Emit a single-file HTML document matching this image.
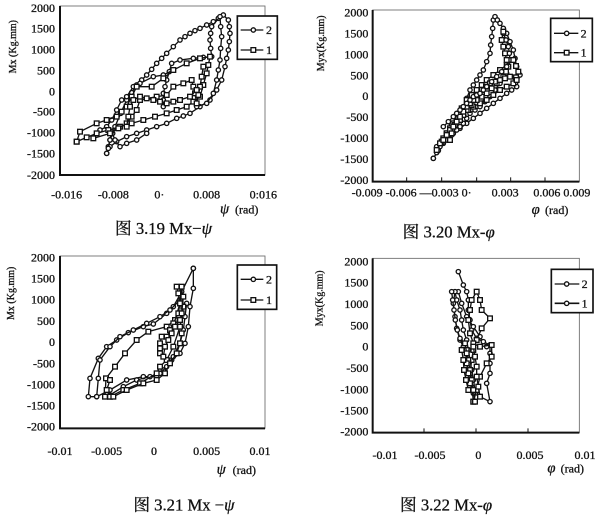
<!DOCTYPE html>
<html><head><meta charset="utf-8"><style>
html,body{margin:0;padding:0;background:#fff;width:600px;height:520px;overflow:hidden}
svg{display:block}
text{font-family:"Liberation Serif","Noto Serif CJK SC",serif;fill:#111;stroke:#111;stroke-width:0.9}
</style></head><body>
<svg width="600" height="520" viewBox="0 0 1800 1560" xmlns="http://www.w3.org/2000/svg">
<defs>
<marker id="c" markerUnits="userSpaceOnUse" markerWidth="22" markerHeight="22" refX="11" refY="11" viewBox="0 0 22 22"><circle cx="11" cy="11" r="6.5" fill="#fff" stroke="#111" stroke-width="4"/></marker>
<marker id="s" markerUnits="userSpaceOnUse" markerWidth="22" markerHeight="22" refX="11" refY="11" viewBox="0 0 22 22"><rect x="4" y="4" width="14" height="14" fill="#fff" stroke="#111" stroke-width="4"/></marker>
<style>
.c{fill:none;stroke:#111;stroke-width:4;marker-start:url(#c);marker-mid:url(#c);marker-end:url(#c)}
.s{fill:none;stroke:#111;stroke-width:4;marker-start:url(#s);marker-mid:url(#s);marker-end:url(#s)}
.t{font-size:36px}
.yl{font-size:30px}
.ti{font-size:50px}
.ax{fill:none;stroke:#111;stroke-width:6}
.fr{fill:none;stroke:#666;stroke-width:2.5}
</style>
</defs>

<!-- Panel 1 -->
<g>
<rect class="fr" x="180" y="18" width="615" height="507"/>
<path class="ax" d="M180 18 V525 H795"/>
<g class="t" text-anchor="end">
<text x="165" y="36">2000</text><text x="165" y="98">1500</text><text x="165" y="161">1000</text><text x="165" y="223">500</text><text x="165" y="286">0</text><text x="165" y="347">-500</text><text x="165" y="410">-1000</text><text x="165" y="472">-1500</text><text x="165" y="537">-2000</text>
</g>
<g class="t" text-anchor="middle">
<text x="200" y="595">-0.016</text><text x="340" y="595">-0.008</text><text x="478" y="595">0·</text><text x="620" y="595">0.008</text><text x="790" y="595">0:016</text>
</g>
<text class="yl" transform="translate(48,140) rotate(-90)" text-anchor="middle">Mx (Kg.mm)</text>
<text x="660" y="640" style="font-size:44px;font-style:italic">ψ</text><text x="705" y="640" class="t">(rad)</text>
<text x="345" y="702" class="ti">图  3.19 Mx−<tspan font-style="italic">ψ</tspan></text>
<rect x="712" y="48" width="120" height="130" fill="#fff" stroke="#111" stroke-width="5"/>
<line x1="722" y1="90" x2="790" y2="90" stroke="#111" stroke-width="4"/><circle cx="760" cy="90" r="6.5" fill="#fff" stroke="#111" stroke-width="4"/><text x="798" y="102" class="t">2</text>
<line x1="722" y1="150" x2="790" y2="150" stroke="#111" stroke-width="4"/><rect x="753" y="143" width="14" height="14" fill="#fff" stroke="#111" stroke-width="4"/><text x="798" y="162" class="t">1</text>
<polyline class="c" points="320,460 325,440 330,420 338,400 345,380 362,340 380,300 395,278 410,255 425,240 440,225 455,208 470,190 485,175 500,160 520,140 540,120 555,110 570,100 585,92 600,85 620,75 640,65 655,55 670,45 685,60 688,80 690,100 688,125 685,150 680,175 675,200 665,240 650,270 630,300 600,320 570,340 550,348 530,355 500,370 470,380 440,390 410,400 380,410 350,425 330,440 320,460"/>
<polyline class="c" points="490,320 490,300 490,280 495,260 500,240 508,215 515,190 540,180 580,175 610,172 635,170 632,145 630,120 632,100 635,80 660,50 662,80 665,110 662,145 660,180 655,210 650,240 640,280 620,310 590,320"/>
<polyline class="c" points="300,390 320,380 335,360 350,330 365,300 380,290 400,260 420,250 460,230 490,225 520,210"/>
<polyline class="c" points="325,445 330,420 335,395 345,420 360,440 380,430 410,420 440,400"/>
<polyline class="s" points="230,425 240,395 290,370 320,360 350,350 365,335 380,320 395,290 410,260 455,260 490,235 520,210 560,190 600,175 630,170 625,195 620,220 610,255 600,290 580,305 560,320 530,330 500,340 465,350 430,360 395,370 360,380 325,390 290,400 260,412 230,425"/>
<polyline class="s" points="280,415 330,400 355,385 380,370 395,350 410,330 420,300 470,290 500,285 520,260 550,250 575,240 580,260 585,280 590,310 595,285 600,260 605,230 610,200"/>
<polyline class="s" points="380,380 385,350 390,320 400,300 420,290 440,295 460,300 480,305 500,310 520,305 540,300 570,290 590,270"/>
</g>

<!-- Panel 2 -->
<g transform="translate(900,0)">
<rect class="fr" x="218" y="30" width="620" height="515"/>
<path class="ax" d="M218 30 V545 H838"/>
<g stroke="#111" stroke-width="3"><line x1="320" y1="545" x2="320" y2="532"/><line x1="425" y1="545" x2="425" y2="532"/><line x1="530" y1="545" x2="530" y2="532"/><line x1="632" y1="545" x2="632" y2="532"/><line x1="735" y1="545" x2="735" y2="532"/></g>
<g class="t" text-anchor="end">
<text x="205" y="50">2000</text><text x="205" y="112">1500</text><text x="205" y="175">1000</text><text x="205" y="238">500</text><text x="205" y="300">0</text><text x="205" y="363">-500</text><text x="205" y="426">-1000</text><text x="205" y="489">-1500</text><text x="205" y="552">-2000</text>
</g>
<text x="155" y="590" class="t">-0.009 -0.006 —0.003 0·</text>
<text x="575" y="590" class="t">0.003</text>
<text x="700" y="590" class="t">0.006 0.009</text>
<text class="yl" transform="translate(72,130) rotate(-90)" text-anchor="middle">Myx(Kg.mm)</text>
<text x="695" y="642" style="font-size:44px;font-style:italic">φ</text><text x="735" y="642" class="t">(rad)</text>
<text x="308" y="712" class="ti">图  3.20 Mx-<tspan font-style="italic">φ</tspan></text>
<rect x="752" y="55" width="125" height="130" fill="#fff" stroke="#111" stroke-width="5"/>
<line x1="762" y1="100" x2="835" y2="100" stroke="#111" stroke-width="4"/><circle cx="800" cy="100" r="6.5" fill="#fff" stroke="#111" stroke-width="4"/><text x="842" y="112" class="t">2</text>
<line x1="762" y1="158" x2="835" y2="158" stroke="#111" stroke-width="4"/><rect x="793" y="151" width="14" height="14" fill="#fff" stroke="#111" stroke-width="4"/><text x="842" y="170" class="t">1</text>
<polyline class="c" points="400,475 410,458 420,440 430,420 440,400 455,380 470,360 480,340 490,320 500,295 510,270 520,255 530,240 540,225 550,210 560,185 570,160 572,135 575,110 578,85 580,60 585,50 592,60 600,70 610,85 620,100 630,125 640,150 645,175 650,200 660,225 650,260 635,270 620,280 600,295 580,310 560,325 540,340 520,355 500,370 480,385 460,400 445,415 430,430 415,452 400,475"/>
<polyline class="c" points="410,440 425,430 440,420 455,405 470,390 480,380 490,370 500,355 510,340 525,330 540,320 555,305 570,290 585,270 600,250 610,235 620,220 625,200 630,180 628,160 625,140 618,120 610,100"/>
<polyline class="s" points="410,450 425,425 440,400 455,375 470,350 485,325 500,300 515,285 530,270 545,255 560,240 580,225 600,210 620,195 640,180 648,198 655,215 648,232 640,250 620,260 600,270 580,285 560,300 540,310 520,320 505,330 490,340 475,355 460,370 450,385 440,400 430,415 420,430"/>
<polyline class="s" points="430,420 440,405 450,390 465,375 480,360 490,345 500,330 515,315 530,300 545,290 560,280 575,265 590,250 600,240 610,230 618,215 625,200 620,180 615,160 610,140 605,120 610,95"/>
<polyline class="s" points="450,420 455,400 460,380 470,365 480,350 490,335 500,320 510,310 520,300 532,285 545,270 558,260 570,250 585,245 600,240 615,235 630,230 650,240"/>
<polyline class="c" points="430,380 445,365 460,350 470,340 480,330 490,320 500,310 510,300 520,290 530,285 540,280 550,270 560,260 575,245 590,230 605,215 620,200"/>
</g>

<!-- Panel 3 -->
<g transform="translate(0,750)">
<rect class="fr" x="180" y="18" width="615" height="517"/>
<path class="ax" d="M180 18 V535 H795"/>
<g class="t" text-anchor="end">
<text x="165" y="34">2000</text><text x="165" y="98">1500</text><text x="165" y="161">1000</text><text x="165" y="225">500</text><text x="165" y="288">0</text><text x="165" y="352">-500</text><text x="165" y="415">-1000</text><text x="165" y="479">-1500</text><text x="165" y="542">-2000</text>
</g>
<g class="t" text-anchor="middle">
<text x="180" y="615">-0.01</text><text x="320" y="615">-0.005</text><text x="462" y="615">0</text><text x="620" y="615">0.005</text><text x="780" y="615">0.01</text>
</g>
<text class="yl" transform="translate(42,130) rotate(-90)" text-anchor="middle">Mx (Kg.mm)</text>
<text x="650" y="672" style="font-size:44px;font-style:italic">ψ</text><text x="698" y="672" class="t">(rad)</text>
<text x="400" y="782" class="ti">图  3.21 Mx −<tspan font-style="italic">ψ</tspan></text>
<rect x="712" y="45" width="118" height="133" fill="#fff" stroke="#111" stroke-width="5"/>
<line x1="722" y1="88" x2="790" y2="88" stroke="#111" stroke-width="4"/><circle cx="760" cy="88" r="6.5" fill="#fff" stroke="#111" stroke-width="4"/><text x="798" y="100" class="t">2</text>
<line x1="722" y1="150" x2="790" y2="150" stroke="#111" stroke-width="4"/><rect x="753" y="143" width="14" height="14" fill="#fff" stroke="#111" stroke-width="4"/><text x="798" y="162" class="t">1</text>
<polyline class="c" points="580,55 580,115 570,170 565,230 555,280 540,310 515,330 490,360 470,380 430,380 380,390 330,420 290,440 265,440 270,385 295,325 320,290 350,270 385,248 430,230 460,222 500,190 520,170 545,125 580,55"/>
<polyline class="c" points="290,440 295,385 300,330 330,290 360,260 400,240 440,220 480,200 510,180 540,150"/>
<polyline class="c" points="330,435 370,410 410,390 450,380 480,370 500,350 520,320 540,280 550,240 555,200 560,160"/>
<polyline class="s" points="330,440 315,440 318,385 345,350 375,310 410,270 445,245 500,230 525,210 540,160 545,110 550,170 540,230 520,290 500,330 480,350 470,370 420,400 370,420 330,440"/>
<polyline class="s" points="480,310 480,295 480,280 485,260 500,260 510,240 520,220 535,190 540,160 535,130 530,110"/>
<polyline class="s" points="490,320 495,290 505,270 515,250 525,230 540,210 545,190 550,140"/>
<polyline class="s" points="330,390 320,420 340,440 380,420 430,400 470,390 495,370 510,340 530,310 540,280 545,250"/>
</g>

<!-- Panel 4 -->
<g transform="translate(900,750)">
<rect class="fr" x="218" y="25" width="620" height="523"/>
<path class="ax" d="M218 25 V548 H838"/>
<g stroke="#111" stroke-width="3"><line x1="372" y1="548" x2="372" y2="535"/><line x1="528" y1="548" x2="528" y2="535"/><line x1="684" y1="548" x2="684" y2="535"/></g>
<g class="t" text-anchor="end">
<text x="205" y="46">2000</text><text x="205" y="110">1500</text><text x="205" y="174">1000</text><text x="205" y="238">500</text><text x="205" y="302">0</text><text x="205" y="366">-500</text><text x="205" y="430">-1000</text><text x="205" y="494">-1500</text><text x="205" y="557">-2000</text>
</g>
<g class="t" text-anchor="middle">
<text x="255" y="627">-0.01</text><text x="390" y="627">-0.005</text><text x="535" y="627">0</text><text x="690" y="627">0.005</text><text x="855" y="627">0.01</text>
</g>
<text class="yl" transform="translate(68,145) rotate(-90)" text-anchor="middle">Myx(Kg.mm)</text>
<text x="742" y="668" style="font-size:44px;font-style:italic">φ</text><text x="782" y="668" class="t">(rad)</text>
<text x="300" y="782" class="ti">图  3.22 Mx-<tspan font-style="italic">φ</tspan></text>
<rect x="754" y="58" width="125" height="130" fill="#fff" stroke="#111" stroke-width="5"/>
<line x1="764" y1="102" x2="838" y2="102" stroke="#111" stroke-width="4"/><circle cx="800" cy="102" r="6.5" fill="#fff" stroke="#111" stroke-width="4"/><text x="845" y="114" class="t">2</text>
<line x1="764" y1="160" x2="838" y2="160" stroke="#111" stroke-width="5"/><circle cx="800" cy="160" r="6.5" fill="#fff" stroke="#111" stroke-width="4"/><text x="845" y="172" class="t">1</text>
<polyline class="c" points="475,65 490,105 500,125 505,150 505,180 510,210 515,240 530,265 550,275 570,285 570,310 570,340 570,370 560,400 570,455 520,430 510,400 505,370 500,330 495,300 480,270 470,235 465,200 460,160 465,125 475,125 485,160 500,200 520,230 540,260 560,290"/>
<polyline class="c" points="465,125 470,150 480,180 485,210 490,240 500,270 505,300 510,330 515,360 520,390 525,420 540,440"/>
<polyline class="c" points="455,125 458,150 462,180 466,210 472,240 480,265 490,290"/>
<polyline class="s" points="520,455 515,400 510,370 515,330 520,300 530,270 545,235 570,205 545,180 540,150 530,125 515,150 510,180 505,210 510,250 520,280 540,290 575,285 575,320 560,340 540,380 530,420 520,455"/>
<polyline class="s" points="500,300 505,330 510,360 515,390 520,420 525,455"/>
<polyline class="s" points="520,290 525,320 530,350 530,380 535,410 540,440"/>
<polyline class="s" points="495,280 500,310 500,340 505,370 510,400"/>
<polyline class="s" points="485,300 490,330 492,360 498,390 505,420"/>
</g>
</svg>
</body></html>
